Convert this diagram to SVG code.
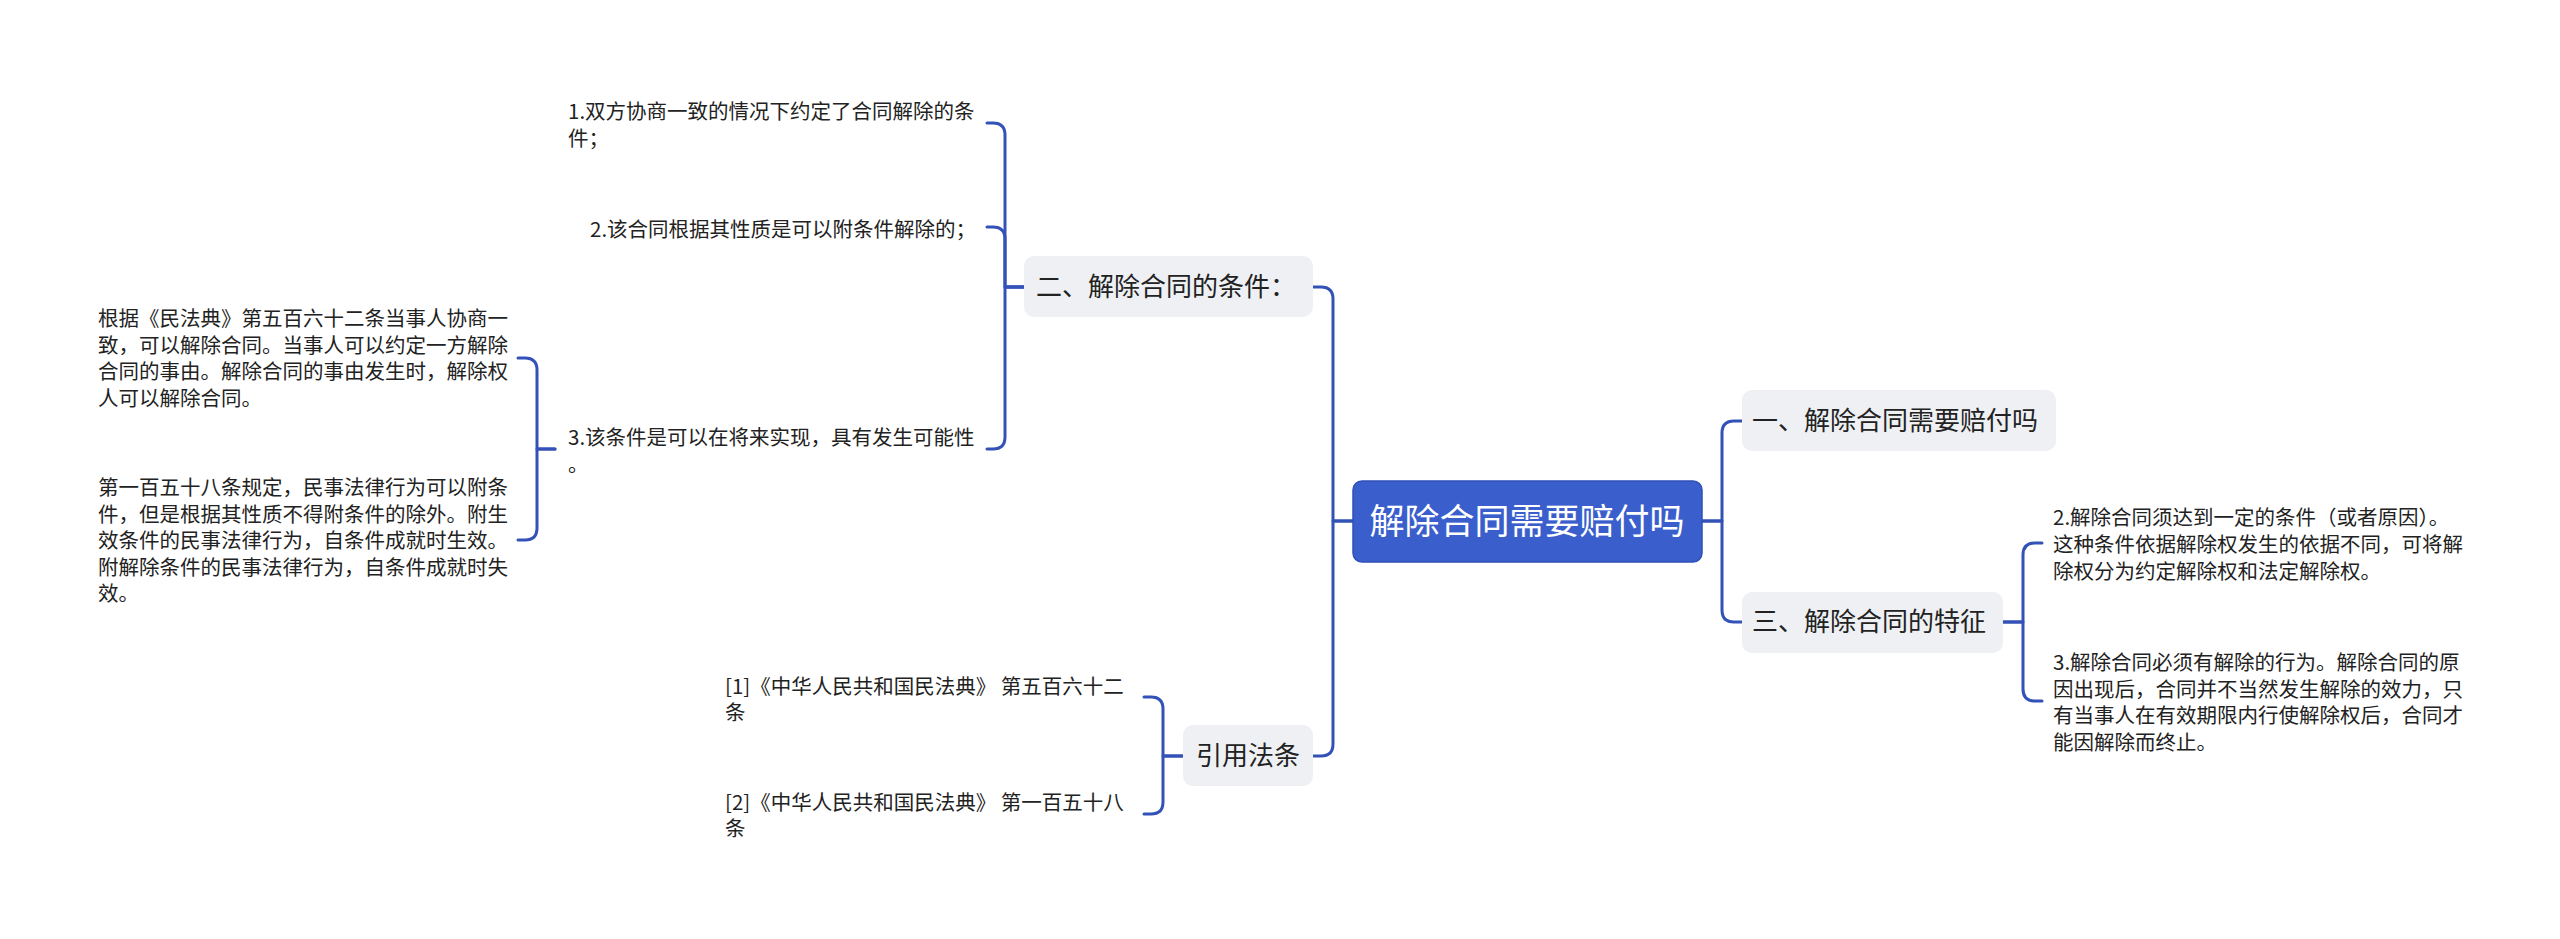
<svg xmlns="http://www.w3.org/2000/svg" width="2560" height="939" viewBox="0 0 2560 939">
<style>
.conn{fill:none;stroke:#3352b8;stroke-width:3;stroke-linecap:round;stroke-linejoin:round}
.t{font-family:"Noto Sans CJK SC","Microsoft YaHei",sans-serif;fill:#222}
.leaf{font-size:20.5px}
.l1{font-size:26px}
.root{font-size:35px;fill:#ffffff}
.box1{fill:#eef0f4}
</style>
<rect width="2560" height="939" fill="#ffffff"/>
<g id="connectors">
<path class="conn" d="M1353,521 H1333 V299 Q1333,287 1321,287 H1313"/>
<path class="conn" d="M1353,521 H1333 V744 Q1333,756 1321,756 H1313"/>
<path class="conn" d="M1702,521 H1722 V433 Q1722,421 1734,421 H1742"/>
<path class="conn" d="M1702,521 H1722 V610 Q1722,622 1734,622 H1742"/>
<path class="conn" d="M2003,622 H2023 V555 Q2023,543 2035,543 H2042"/>
<path class="conn" d="M2003,622 H2023 V689 Q2023,701 2035,701 H2042"/>
<path class="conn" d="M1024,287 H1005 V135 Q1005,123 993,123 H987"/>
<path class="conn" d="M1024,287 H1005 V239 Q1005,227 993,227 H987"/>
<path class="conn" d="M1024,287 H1005 V437 Q1005,449 993,449 H987"/>
<path class="conn" d="M555,449 H537 V370 Q537,358 525,358 H518"/>
<path class="conn" d="M555,449 H537 V528 Q537,540 525,540 H518"/>
<path class="conn" d="M1183,756 H1163 V709 Q1163,697 1151,697 H1144"/>
<path class="conn" d="M1183,756 H1163 V802 Q1163,814 1151,814 H1144"/>
</g>
<g id="root">
<rect x="1353" y="481" width="349" height="81" rx="9" fill="#3a5fcd" stroke="#2f50b8" stroke-width="1.5"/>
<text class="t root" x="1527" y="534" text-anchor="middle">解除合同需要赔付吗</text>
</g>
<g id="n1">
<rect class="box1" x="1742" y="390" width="314" height="61" rx="10"/>
<text class="t l1" x="1752" y="430">一、解除合同需要赔付吗</text>
</g>
<g id="n3">
<rect class="box1" x="1742" y="592" width="261" height="61" rx="10"/>
<text class="t l1" x="1752" y="631">三、解除合同的特征</text>
</g>
<g id="n2">
<rect class="box1" x="1024" y="256" width="289" height="61" rx="10"/>
<text class="t l1" x="1036" y="296">二、解除合同的条件：</text>
</g>
<g id="ref">
<rect class="box1" x="1183" y="725" width="130" height="61" rx="10"/>
<text class="t l1" x="1248" y="765" text-anchor="middle">引用法条</text>
</g>
<g id="n3a">
<text class="t leaf"><tspan x="2053" y="525">2.解除合同须达到一定的条件（或者原因）。</tspan><tspan x="2053" y="552">这种条件依据解除权发生的依据不同，可将解</tspan><tspan x="2053" y="579">除权分为约定解除权和法定解除权。</tspan></text>
</g>
<g id="n3b">
<text class="t leaf"><tspan x="2053" y="670">3.解除合同必须有解除的行为。解除合同的原</tspan><tspan x="2053" y="697">因出现后，合同并不当然发生解除的效力，只</tspan><tspan x="2053" y="723">有当事人在有效期限内行使解除权后，合同才</tspan><tspan x="2053" y="750">能因解除而终止。</tspan></text>
</g>
<g id="n2a">
<text class="t leaf"><tspan x="568" y="119">1.双方协商一致的情况下约定了合同解除的条</tspan><tspan x="568" y="146">件；</tspan></text>
</g>
<g id="n2b">
<text class="t leaf"><tspan x="590" y="237">2.该合同根据其性质是可以附条件解除的；</tspan></text>
</g>
<g id="n2c">
<text class="t leaf"><tspan x="568" y="445">3.该条件是可以在将来实现，具有发生可能性</tspan><tspan x="568" y="472">。</tspan></text>
</g>
<g id="n2c1">
<text class="t leaf"><tspan x="98" y="326">根据《民法典》第五百六十二条当事人协商一</tspan><tspan x="98" y="353">致，可以解除合同。当事人可以约定一方解除</tspan><tspan x="98" y="379">合同的事由。解除合同的事由发生时，解除权</tspan><tspan x="98" y="406">人可以解除合同。</tspan></text>
</g>
<g id="n2c2">
<text class="t leaf"><tspan x="98" y="495">第一百五十八条规定，民事法律行为可以附条</tspan><tspan x="98" y="522">件，但是根据其性质不得附条件的除外。附生</tspan><tspan x="98" y="548">效条件的民事法律行为，自条件成就时生效。</tspan><tspan x="98" y="575">附解除条件的民事法律行为，自条件成就时失</tspan><tspan x="98" y="601">效。</tspan></text>
</g>
<g id="ref1">
<text class="t leaf"><tspan x="725" y="694">[1]《中华人民共和国民法典》 第五百六十二</tspan><tspan x="725" y="720">条</tspan></text>
</g>
<g id="ref2">
<text class="t leaf"><tspan x="725" y="810">[2]《中华人民共和国民法典》 第一百五十八</tspan><tspan x="725" y="836">条</tspan></text>
</g>
</svg>
